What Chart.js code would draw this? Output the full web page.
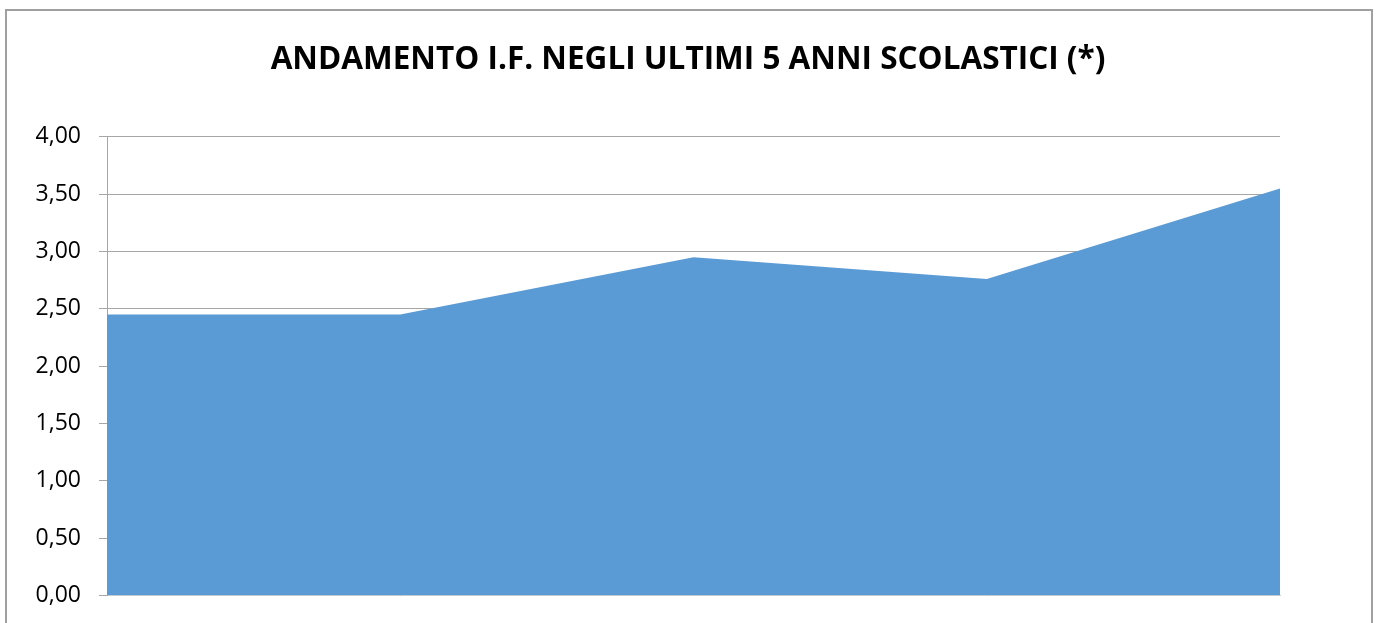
<!DOCTYPE html>
<html>
<head>
<meta charset="utf-8">
<script src="https://cdn.jsdelivr.net/npm/chart.js@4/dist/chart.umd.min.js"></script>
<style>
  html, body { margin: 0; padding: 0; background: #fff; overflow: hidden; }
  #frame { position: absolute; left: 5px; top: 9px; width: 1364px; height: 700px; border: 2px solid #a0a0a0; }
  #c { position: absolute; left: 0; top: 0; }
</style>
</head>
<body>
<div id="frame"></div>
<canvas id="c" width="1376" height="623"></canvas>
<script>
// anni scolastici (etichette tagliate in basso nel riferimento)
const anni = ["2010/11", "2011/12", "2012/13", "2013/14", "2014/15"]
const valoriIF = [2.45, 2.45, 2.95, 2.76, 3.55]
const tickY = [0, 0.5, 1, 1.5, 2, 2.5, 3, 3.5, 4]

const titolo = "ANDAMENTO I.F. NEGLI ULTIMI 5 ANNI SCOLASTICI (*)"
const grigio = "#a6a6a6"

const ctx = document.getElementById('c').getContext('2d')

new Chart(ctx, {
  type: 'line',
  data: {
    labels: anni,
    datasets: [{
      data: valoriIF,
      fill: 'origin',
      backgroundColor: '#5b9bd5',
      borderWidth: 0,
      pointRadius: 0,
      tension: 0
    }]
  },
  options: {
    responsive: false,
    devicePixelRatio: 1,
    animation: false,
    layout: { padding: { left: 0, right: 0, top: 0, bottom: 27.5 } },
    plugins: {
      legend: { display: false },
      tooltip: { enabled: false },
      title: {
        display: true,
        text: titolo,
        color: '#000',
        font: { family: 'Open Sans', size: 31.5, weight: 'bold' },
        padding: { top: 41, bottom: 58 }
      }
    },
    scales: {
      x: {
        offset: false,
        grid: { display: false },
        border: { display: true, color: '#d0d0d0', width: 1 },
        ticks: { display: false },
        afterFit: (s) => { s.height = 0; s.paddingBottom = 0; s.paddingTop = 0 }
      },
      y: {
        min: 0,
        max: 4,
        afterBuildTicks: (s) => { s.ticks = tickY.map(v => ({ value: v })) },
        grid: { color: grigio, lineWidth: 1, tickLength: 8, drawTicks: true },
        border: { display: true, color: grigio, width: 1 },
        ticks: {
          color: '#000',
          padding: 18,
          font: { family: 'Open Sans', size: 23 },
          callback: (v) => Number(v).toFixed(2).replace('.', ',')
        },
        afterFit: (s) => { s.width = 107; s.paddingBottom = 0; s.paddingTop = 0 }
      },
      // spazio vuoto a destra dell'area del grafico
      destra: {
        type: 'linear',
        position: 'right',
        display: true,
        grid: { display: false },
        border: { display: false },
        ticks: { display: false },
        afterFit: (s) => { s.width = 96; s.paddingBottom = 0; s.paddingTop = 0 }
      }
    }
  }
})
</script>
</body>
</html>
